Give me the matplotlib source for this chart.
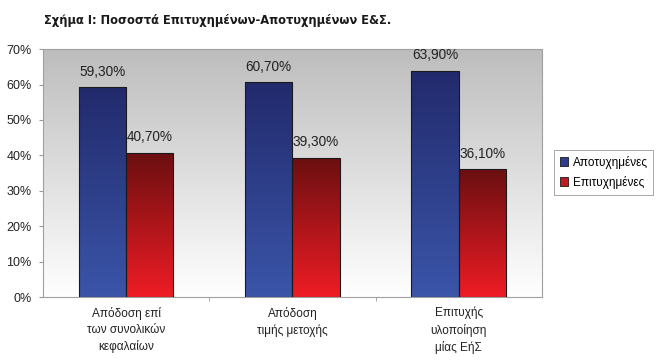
import numpy as np
import matplotlib.pyplot as plt
from matplotlib.colors import LinearSegmentedColormap
from matplotlib.patches import Patch

plt.rcParams['font.family'] = ['Liberation Sans', 'DejaVu Sans']

categories = ['Απόδοση επί\nτων συνολικών\nκεφαλαίων', 'Απόδοση\nτιμής μετοχής', 'Επιτυχής\nυλοποίηση\nμίας ΕήΣ']
series_names = ['Αποτυχημένες', 'Επιτυχημένες']
failed = [59.3, 60.7, 63.9]
success = [40.7, 39.3, 36.1]
yticks = [0, 10, 20, 30, 40, 50, 60, 70]

fig = plt.figure(figsize=(6.6, 3.64), dpi=100)
ax = fig.add_axes([0.065, 0.184, 0.756, 0.681])

x = np.arange(len(categories))
w = 0.285

# background gradient: grey at top -> white at bottom
bg = LinearSegmentedColormap.from_list('bg', ['#ffffff', '#bdbdbd'])
grad = np.linspace(0, 1, 256).reshape(-1, 1)
ax.imshow(grad, cmap=bg, origin='lower', extent=[-0.5, 2.5, 0, 70], aspect='auto', zorder=0)

blue = LinearSegmentedColormap.from_list('b', ['#3b55a9', '#222a6c'])
red = LinearSegmentedColormap.from_list('r', ['#ef1c25', '#6a0f10'])

def gradient_bars(xs, vals, cmap, name):
    bars = ax.bar(xs, vals, w, facecolor='none', edgecolor='#1a1a1a', lw=0.8, zorder=3, label=name)
    for b, v in zip(bars, vals):
        bx = b.get_x()
        im = ax.imshow(grad, cmap=cmap, origin='lower', extent=[bx, bx + w, 0, v],
                       aspect='auto', zorder=2)
        im.set_clip_path(b)
        ax.text(bx + w / 2, v + 2.4, ('%.2f%%' % v).replace('.', ','), ha='center', va='bottom',
                fontsize=9.8, color='#222222', zorder=4)
    return bars

gradient_bars(x - w / 2, failed, blue, series_names[0])
gradient_bars(x + w / 2, success, red, series_names[1])

ax.set_xlim(-0.5, 2.5)
ax.set_ylim(0, 70)
ax.set_yticks(yticks)
ax.set_yticklabels(['%d%%' % t for t in yticks], fontsize=9, color='#222222')
ax.set_xticks(x)
ax.set_xticklabels(categories, fontsize=8.5, color='#222222', linespacing=1.45)
ax.tick_params(axis='x', length=0, pad=7)
ax.set_xticks([0.5, 1.5], minor=True)
ax.tick_params(axis='x', which='minor', length=3, color='#999999')
ax.tick_params(axis='y', length=3, color='#999999', pad=5)
for s in ax.spines.values():
    s.set_color('#a0a0a0')
    s.set_linewidth(0.8)

handles = [Patch(facecolor='#2e3f8f', edgecolor='#1a1a1a', lw=0.6),
           Patch(facecolor='#c01a20', edgecolor='#1a1a1a', lw=0.6)]
leg = fig.legend(handles, series_names, loc='upper left', bbox_to_anchor=(0.83, 0.605),
                 fontsize=8.5, frameon=True, fancybox=False, handlelength=0.7, handleheight=0.7,
                 handletextpad=0.4, borderpad=0.5, labelspacing=0.6)
leg.get_frame().set_edgecolor('#808080')
leg.get_frame().set_linewidth(0.6)

fig.text(0.066, 0.935, 'Σχήμα Ι: Ποσοστά Επιτυχημένων-Αποτυχημένων Ε&Σ.', fontsize=9.2,
         fontweight='bold', fontstretch='condensed', color='#1a1a1a', family='DejaVu Sans')

fig.savefig('out.png', dpi=100)
